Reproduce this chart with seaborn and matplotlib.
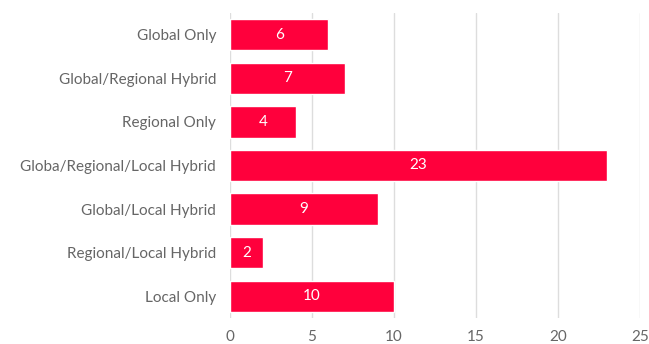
import numpy as np
import pandas as pd
import seaborn as sns
import matplotlib.pyplot as plt

# data
categories = ['Global Only', 'Global/Regional Hybrid', 'Regional Only',
              'Globa/Regional/Local Hybrid', 'Global/Local Hybrid',
              'Regional/Local Hybrid', 'Local Only']
counts = [6, 7, 4, 23, 9, 2, 10]

df = pd.DataFrame({'Category': categories, 'Count': counts})

sns.set_style('white')
plt.rcParams['font.family'] = ['Lato', 'DejaVu Sans']

fig = plt.figure(figsize=(6.49, 3.44), dpi=100)
ax = fig.add_axes([0.3544, 0.0756, 0.6317, 0.8866])

sns.barplot(data=df, y='Category', x='Count', color='#ff003c', saturation=1,
            width=0.72, ax=ax)

# value labels inside the bars
for container in ax.containers:
    ax.bar_label(container, label_type='center', color='white', fontsize=11)

ax.set_xlim(0, 25)
ax.set_xticks([0, 5, 10, 15, 20, 25])
ax.grid(axis='x', color='#dddddd', linewidth=1)
ax.set_axisbelow(True)
for s in ax.spines.values():
    s.set_visible(False)
ax.set_xlabel('')
ax.set_ylabel('')
ax.tick_params(axis='x', length=0, labelcolor='#666666', labelsize=11, pad=9)
ax.tick_params(axis='y', length=0, labelcolor='#666666', labelsize=11, pad=10)

plt.savefig('out.png', dpi=100)
